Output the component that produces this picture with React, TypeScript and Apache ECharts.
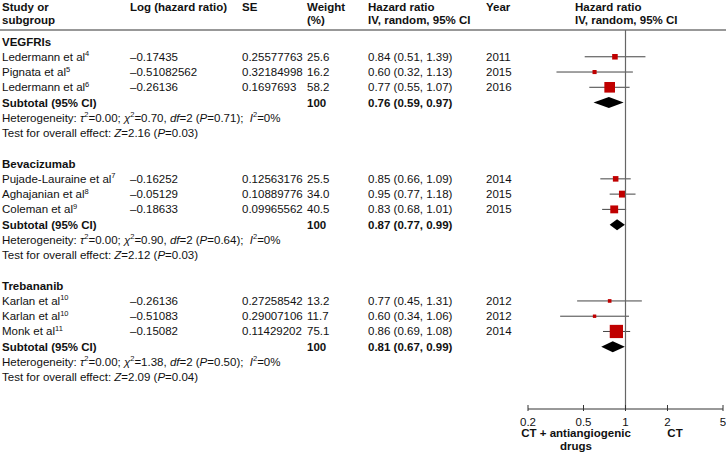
import React, { useEffect, useRef } from "react";
import * as echarts from "echarts";

// ---------- data ----------
const groups = ["VEGFRIs", "Bevacizumab", "Trebananib"];
const studies = [
  "Ledermann et al",
  "Pignata et al",
  "Ledermann et al",
  "Pujade-Lauraine et al",
  "Aghajanian et al",
  "Coleman et al",
  "Karlan et al",
  "Karlan et al",
  "Monk et al",
];
const refs = ["4", "5", "6", "7", "8", "9", "10", "10", "11"];
const studyGroup = [0, 0, 0, 1, 1, 1, 2, 2, 2];
const logHR = [-0.17435, -0.51082562, -0.26136, -0.16252, -0.05129, -0.18633, -0.26136, -0.51083, -0.15082];
const seValues = [0.25577763, 0.32184998, 0.1697693, 0.12563176, 0.10889776, 0.09965562, 0.27258542, 0.29007106, 0.11429202];
const weights = [25.6, 16.2, 58.2, 25.5, 34.0, 40.5, 13.2, 11.7, 75.1];
const hr = [0.84, 0.6, 0.77, 0.85, 0.95, 0.83, 0.77, 0.6, 0.86];
const hrLow = [0.51, 0.32, 0.55, 0.66, 0.77, 0.68, 0.45, 0.34, 0.69];
const hrHigh = [1.39, 1.13, 1.07, 1.09, 1.18, 1.01, 1.31, 1.06, 1.08];
const years = [2011, 2015, 2016, 2014, 2015, 2015, 2012, 2012, 2014];
const subtotalHR = [0.76, 0.87, 0.81];
const subtotalLow = [0.59, 0.77, 0.67];
const subtotalHigh = [0.97, 0.99, 0.99];
const subtotalWeight = [100, 100, 100];
const tau2 = [0, 0, 0];
const chi2 = [0.7, 0.9, 1.38];
const dfValues = [2, 2, 2];
const hetP = [0.71, 0.64, 0.5];
const i2 = [0, 0, 0];
const zValues = [2.16, 2.12, 2.09];
const overallP = [0.03, 0.03, 0.04];
const axisTicks = [0.2, 0.5, 1, 2, 5];
const favoursLeft = ["CT + antiangiogenic", "drugs"];
const favoursRight = "CT";

// ---------- layout ----------
const FONT = '"Liberation Sans", Arial, Helvetica, sans-serif';
const FS = 11.5;
const TEXT = "#111";
const COL = { study: 2, log: 130, se: 242, weight: 307, hr: 368, year: 486 };
const Y_MIN = -0.754;
const Y_MAX = 24.08;
const X_MIN = Math.log10(axisTicks[0]);
const X_MAX = Math.log10(axisTicks[axisTicks.length - 1]);

type Row = { kind: string; idx: number; row: number };
const rows: Row[] = [];
{
  let r = 0;
  groups.forEach((_, gi) => {
    rows.push({ kind: "group", idx: gi, row: r++ });
    studies.forEach((_, si) => {
      if (studyGroup[si] === gi) rows.push({ kind: "study", idx: si, row: r++ });
    });
    rows.push({ kind: "subtotal", idx: gi, row: r++ });
    rows.push({ kind: "het", idx: gi, row: r++ });
    rows.push({ kind: "test", idx: gi, row: r++ });
    r++;
  });
}

const dash = (v: number) => String(v).replace("-", "\u2013");
const ci = (a: number, b: number, c: number) => `${a.toFixed(2)} (${b.toFixed(2)}, ${c.toFixed(2)})`;

const RICH = {
  s: { fontSize: 7.5, fontFamily: FONT, fill: TEXT, verticalAlign: "top", lineHeight: 14 },
  i: { fontSize: FS, fontFamily: FONT, fill: TEXT, fontStyle: "italic", lineHeight: 14 },
  n: { fontSize: FS, fontFamily: FONT, fill: TEXT, lineHeight: 14 },
};

function txt(x: number, y: number, text: string, bold = false, align = "left") {
  return {
    type: "text",
    x,
    y,
    style: {
      text,
      fill: TEXT,
      fontSize: FS,
      fontFamily: FONT,
      fontWeight: bold ? "bold" : "normal",
      align,
      verticalAlign: "middle",
      lineHeight: 14,
      rich: RICH,
    },
  };
}

export default function App() {
  const ref = useRef<HTMLDivElement>(null);
  useEffect(() => {
    if (!ref.current) return;
    const chart = echarts.init(ref.current, null, { renderer: "svg" });

    const renderRow = (params: any, api: any) => {
      const item = rows[params.dataIndex];
      const y = api.coord([0, item.row])[1];
      const ch: any[] = [];
      const i = item.idx;
      if (item.kind === "group") {
        ch.push(txt(COL.study, y, groups[i], true));
      } else if (item.kind === "study") {
        ch.push(txt(COL.study, y, `{n|${studies[i]}}{s|${refs[i]}}`));
        ch.push(txt(COL.log, y, dash(logHR[i])));
        ch.push(txt(COL.se, y, String(seValues[i])));
        ch.push(txt(COL.weight, y, weights[i].toFixed(1)));
        ch.push(txt(COL.hr, y, ci(hr[i], hrLow[i], hrHigh[i])));
        ch.push(txt(COL.year, y, String(years[i])));
        const p1 = api.coord([Math.log10(hrLow[i]), item.row]);
        const p2 = api.coord([Math.log10(hrHigh[i]), item.row]);
        const pc = api.coord([Math.log10(hr[i]), item.row]);
        const sz = 0.155 * weights[i] + 1.6;
        ch.push({
          type: "line",
          shape: { x1: p1[0], y1: y, x2: p2[0], y2: y },
          style: { stroke: "#444", lineWidth: 1 },
        });
        ch.push({
          type: "rect",
          shape: { x: pc[0] - sz / 2, y: y - sz / 2, width: sz, height: sz },
          style: { fill: "#c00000" },
        });
      } else if (item.kind === "subtotal") {
        ch.push(txt(COL.study, y, "Subtotal (95% CI)", true));
        ch.push(txt(COL.weight, y, String(subtotalWeight[i]), true));
        ch.push(txt(COL.hr, y, ci(subtotalHR[i], subtotalLow[i], subtotalHigh[i]), true));
        const a = api.coord([Math.log10(subtotalLow[i]), item.row]);
        const b = api.coord([Math.log10(subtotalHigh[i]), item.row]);
        const c = api.coord([Math.log10(subtotalHR[i]), item.row]);
        const h = 5.5;
        ch.push({
          type: "polygon",
          shape: { points: [[a[0], y], [c[0], y - h], [b[0], y], [c[0], y + h]] },
          style: { fill: "#000" },
        });
      } else if (item.kind === "het") {
        const s =
          `{n|Heterogeneity: }{i|\u03c4}{s|2}{n|=${tau2[i].toFixed(2)}; }{i|\u03c7}{s|2}{n|=${chi2[i].toFixed(2)}, }` +
          `{i|df}{n|=${dfValues[i]} (}{i|P}{n|=${hetP[i].toFixed(2)});  }{i|I}{s|2}{n|=${i2[i]}%}`;
        ch.push(txt(COL.study, y, s));
      } else if (item.kind === "test") {
        const s = `{n|Test for overall effect: }{i|Z}{n|=${zValues[i].toFixed(2)} (}{i|P}{n|=${overallP[i].toFixed(2)})}`;
        ch.push(txt(COL.study, y, s));
      }
      return { type: "group", children: ch };
    };

    const renderAxis = (params: any, api: any) => {
      const v = axisTicks[params.dataIndex];
      const p = api.coord([Math.log10(v), Y_MAX]);
      const ch: any[] = [
        {
          type: "line",
          shape: { x1: p[0], y1: p[1] - 4, x2: p[0], y2: p[1] + 2 },
          style: { stroke: "#333", lineWidth: 1 },
        },
        {
          type: "text",
          x: p[0],
          y: p[1] + 13,
          style: {
            text: String(v),
            fill: TEXT,
            fontSize: FS,
            fontFamily: FONT,
            align: "center",
            verticalAlign: "middle",
            lineHeight: 10,
          },
        },
      ];
      if (params.dataIndex === 0) {
        const e = api.coord([X_MAX, Y_MAX]);
        const t = api.coord([0, Y_MIN]);
        ch.push({
          type: "line",
          shape: { x1: p[0], y1: p[1], x2: e[0], y2: e[1] },
          style: { stroke: "#333", lineWidth: 1 },
        });
        ch.push({
          type: "line",
          shape: { x1: t[0], y1: t[1], x2: t[0], y2: p[1] },
          style: { stroke: "#666", lineWidth: 1.2 },
        });
      }
      return { type: "group", children: ch };
    };

    const hdr = (x: number, y: number, text: string) => ({
      type: "text",
      left: x,
      top: y,
      style: { text, fill: TEXT, font: `bold ${FS}px ${FONT}`, lineHeight: 13 },
    });

    const bottomLabel = (x: number, y: number, text: string) => ({
      type: "text",
      x,
      y,
      style: {
        text,
        fill: TEXT,
        font: `bold ${FS}px ${FONT}`,
        align: "center",
        verticalAlign: "middle",
        lineHeight: 10,
      },
    });

    chart.setOption({
      animation: false,
      grid: { left: 528, right: 3, top: 30, bottom: 52 },
      xAxis: { type: "value", min: X_MIN, max: X_MAX, show: false },
      yAxis: { type: "value", inverse: true, min: Y_MIN, max: Y_MAX, show: false },
      graphic: [
        hdr(COL.study, 0, "Study or\nsubgroup"),
        hdr(COL.log, 0, "Log (hazard ratio)"),
        hdr(COL.se, 0, "SE"),
        hdr(COL.weight, 0, "Weight\n(%)"),
        hdr(COL.hr, 0, "Hazard ratio\nIV, random, 95% CI"),
        hdr(COL.year, 0, "Year"),
        hdr(575, 0, "Hazard ratio\nIV, random, 95% CI"),
        {
          type: "line",
          shape: { x1: 0, y1: 30, x2: 726, y2: 30 },
          style: { stroke: "#333", lineWidth: 1.2 },
        },
        bottomLabel(576, 432.5, favoursLeft[0]),
        bottomLabel(576, 445.5, favoursLeft[1]),
        bottomLabel(675, 432.5, favoursRight),
      ],
      series: [
        {
          type: "custom",
          clip: false,
          renderItem: renderRow,
          data: rows.map((r) => [0, r.row]),
          silent: true,
        },
        {
          type: "custom",
          clip: false,
          renderItem: renderAxis,
          data: axisTicks.map((v) => [Math.log10(v), Y_MAX]),
          silent: true,
        },
      ],
    });
    return () => chart.dispose();
  }, []);
  return (
    <div
      ref={ref}
      style={{ position: "fixed", left: 0, top: 0, width: 726, height: 461, background: "#fff" }}
    />
  );
}
